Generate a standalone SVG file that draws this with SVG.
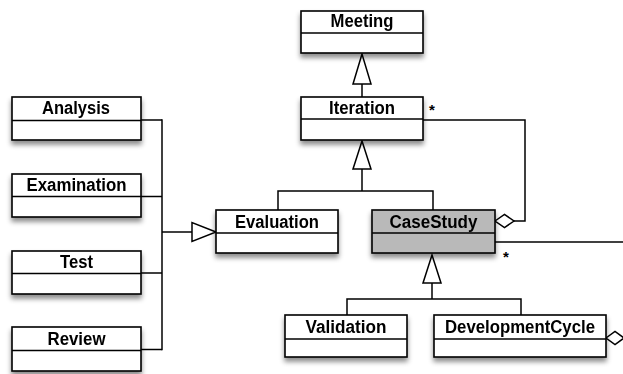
<svg xmlns="http://www.w3.org/2000/svg" width="623" height="374" viewBox="0 0 623 374">
  <style>
    .box { fill: #ffffff; stroke: #000000; stroke-width: 1.6; }
    .box.shaded { fill: #b9b9b9; }
    .div { stroke: #000000; stroke-width: 1.4; fill: none; }
    .name { font-family: "Liberation Sans", Arial, Helvetica, sans-serif; font-weight: bold; font-size: 18px; fill: #000000; text-anchor: middle; }
    .mult { font-family: "Liberation Sans", Arial, Helvetica, sans-serif; font-weight: bold; font-size: 15px; fill: #000000; }
    .edge { stroke: #000000; stroke-width: 1.5; fill: none; }
    .head { stroke: #000000; stroke-width: 1.5; fill: #ffffff; stroke-linejoin: miter; }
  </style>
  <defs>
    <filter id="shadow" x="-10%" y="-20%" width="120%" height="160%">
      <feDropShadow dx="0" dy="4" stdDeviation="2.6" flood-color="#000000" flood-opacity="0.45"/>
    </filter>
  </defs>

  <rect width="623" height="374" fill="#ffffff"/>

  <!-- connectors -->
  <g id="connectors">
    <!-- Iteration generalises Meeting -->
    <line class="edge" x1="362" y1="97" x2="362" y2="84"/>
    <polygon class="head" points="362,54 353,84 371,84"/>

    <!-- Evaluation and CaseStudy generalise Iteration -->
    <polyline class="edge" points="362,169 362,191"/>
    <polyline class="edge" points="278,210 278,191 433,191 433,210"/>
    <polygon class="head" points="362,141 353,169 371,169"/>

    <!-- Analysis, Examination, Test, Review generalise Evaluation -->
    <line class="edge" x1="141" y1="120" x2="162" y2="120"/>
    <line class="edge" x1="141" y1="196.5" x2="162" y2="196.5"/>
    <line class="edge" x1="141" y1="273" x2="162" y2="273"/>
    <line class="edge" x1="141" y1="349.5" x2="162" y2="349.5"/>
    <line class="edge" x1="162" y1="119.3" x2="162" y2="350.2"/>
    <line class="edge" x1="162" y1="232" x2="192" y2="232"/>
    <polygon class="head" points="216,232 192,222.5 192,241.5"/>

    <!-- CaseStudy aggregates Iteration -->
    <polyline class="edge" points="423,120 525,120 525,221 514,221"/>
    <polygon class="head" points="495,221 504.5,214.5 514,221 504.5,227.5"/>
    <text class="mult" x="429" y="115">*</text>

    <!-- CaseStudy association leaving to the right -->
    <line class="edge" x1="495" y1="242" x2="623" y2="242"/>
    <text class="mult" x="503" y="262">*</text>

    <!-- Validation and DevelopmentCycle generalise CaseStudy -->
    <polyline class="edge" points="432,283 432,299"/>
    <polyline class="edge" points="347,315 347,299 521,299 521,315"/>
    <polygon class="head" points="432,255 423,283 441,283"/>

    <!-- aggregation diamond on DevelopmentCycle -->
    <polygon class="head" points="606,338 615,331.5 624,338 615,344.5"/>
  </g>

  <!-- classes -->
  <g id="meeting" filter="url(#shadow)">
    <rect class="box" x="301" y="11" width="122" height="42"/>
    <line class="div" x1="301" y1="33" x2="423" y2="33"/>
    <text class="name" x="362" y="27" textLength="63" lengthAdjust="spacingAndGlyphs">Meeting</text>
  </g>

  <g id="iteration" filter="url(#shadow)">
    <rect class="box" x="301" y="97" width="122" height="43"/>
    <line class="div" x1="301" y1="119" x2="423" y2="119"/>
    <text class="name" x="362" y="113.5" textLength="66" lengthAdjust="spacingAndGlyphs">Iteration</text>
  </g>

  <g id="analysis" filter="url(#shadow)">
    <rect class="box" x="12" y="97" width="129" height="43"/>
    <line class="div" x1="12" y1="120.5" x2="141" y2="120.5"/>
    <text class="name" x="76" y="113.5" textLength="68" lengthAdjust="spacingAndGlyphs">Analysis</text>
  </g>

  <g id="examination" filter="url(#shadow)">
    <rect class="box" x="12" y="174" width="129" height="43"/>
    <line class="div" x1="12" y1="196.5" x2="141" y2="196.5"/>
    <text class="name" x="76.5" y="191" textLength="100" lengthAdjust="spacingAndGlyphs">Examination</text>
  </g>

  <g id="test" filter="url(#shadow)">
    <rect class="box" x="12" y="251" width="129" height="43"/>
    <line class="div" x1="12" y1="273.5" x2="141" y2="273.5"/>
    <text class="name" x="76.5" y="268" textLength="33" lengthAdjust="spacingAndGlyphs">Test</text>
  </g>

  <g id="review" filter="url(#shadow)">
    <rect class="box" x="12" y="327" width="129" height="44"/>
    <line class="div" x1="12" y1="350.5" x2="141" y2="350.5"/>
    <text class="name" x="76.5" y="344.5" textLength="58" lengthAdjust="spacingAndGlyphs">Review</text>
  </g>

  <g id="evaluation" filter="url(#shadow)">
    <rect class="box" x="216" y="210" width="122" height="43"/>
    <line class="div" x1="216" y1="233" x2="338" y2="233"/>
    <text class="name" x="277" y="227.5" textLength="84" lengthAdjust="spacingAndGlyphs">Evaluation</text>
  </g>

  <g id="casestudy" filter="url(#shadow)">
    <rect class="box shaded" x="372" y="210" width="123" height="43"/>
    <line class="div" x1="372" y1="233" x2="495" y2="233"/>
    <text class="name" x="433.5" y="228" textLength="88" lengthAdjust="spacingAndGlyphs">CaseStudy</text>
  </g>

  <g id="validation" filter="url(#shadow)">
    <rect class="box" x="285" y="315" width="122" height="42"/>
    <line class="div" x1="285" y1="339" x2="407" y2="339"/>
    <text class="name" x="346" y="332.5" textLength="81" lengthAdjust="spacingAndGlyphs">Validation</text>
  </g>

  <g id="developmentcycle" filter="url(#shadow)">
    <rect class="box" x="434" y="315" width="172" height="42"/>
    <line class="div" x1="434" y1="339" x2="606" y2="339"/>
    <text class="name" x="520" y="332.5" textLength="150" lengthAdjust="spacingAndGlyphs">DevelopmentCycle</text>
  </g>
</svg>
